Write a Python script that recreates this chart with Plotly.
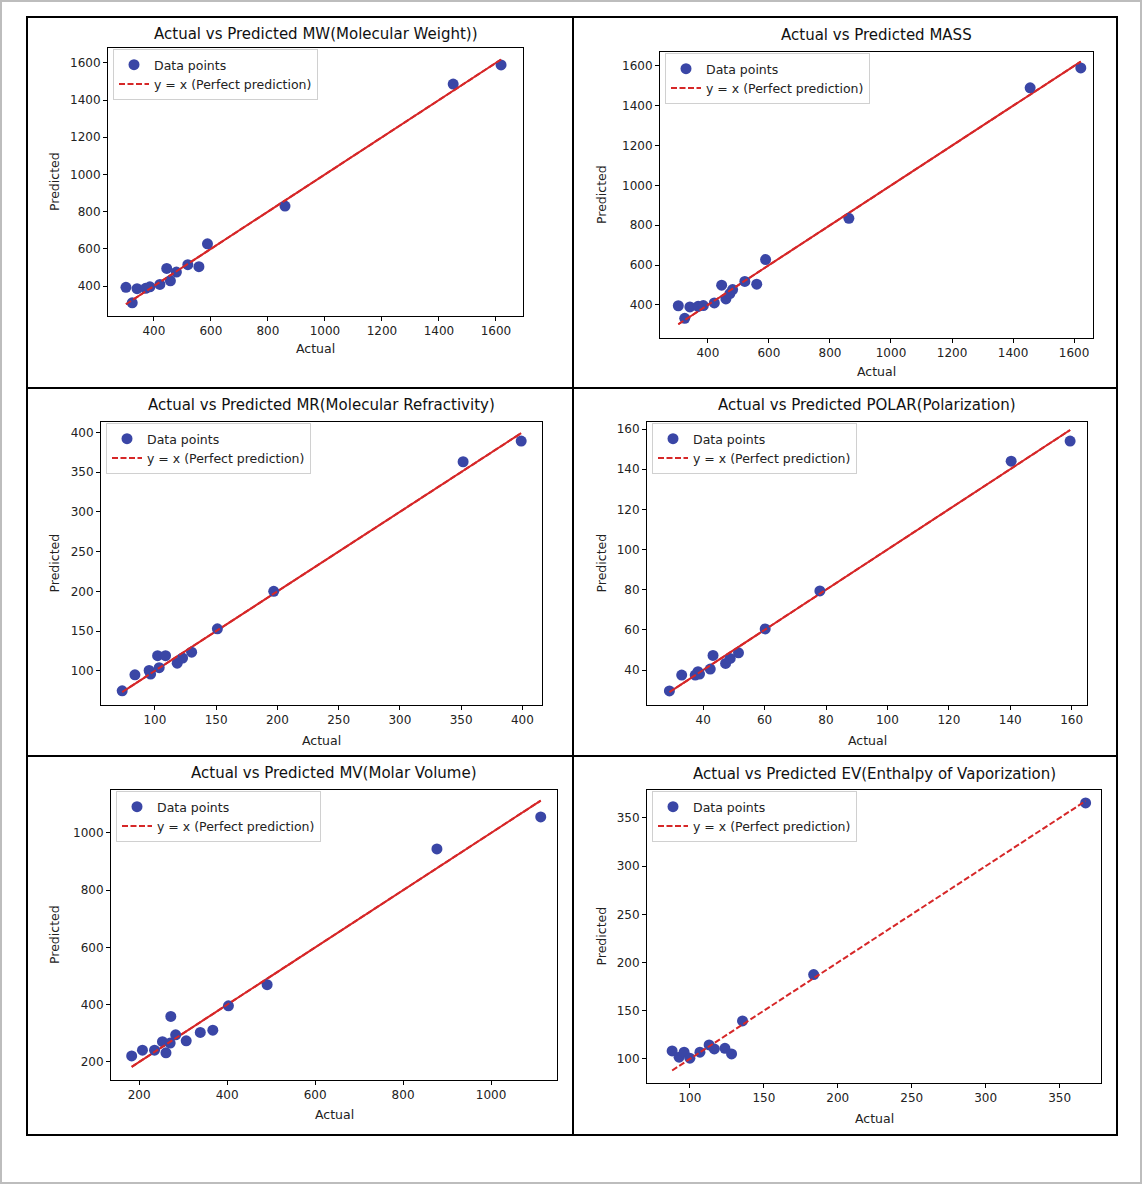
import plotly.graph_objects as go

W, H = 1145, 1185

# ---- data (actual, predicted) ----
mw_actual = [1618, 302, 860, 324, 341, 1450, 371, 386, 421, 445, 458, 479, 519, 558, 588]
mw_pred = [1589, 393, 830, 310, 386, 1486, 388, 396, 409, 495, 428, 475, 515, 504, 627]

mass_actual = [1622, 303, 862, 324, 341, 1456, 368, 385, 421, 445, 459, 472, 481, 521, 560, 589]
mass_pred = [1590, 396, 835, 333, 390, 1490, 393, 397, 410, 499, 430, 457, 477, 518, 504, 628]

mr_actual = [399, 73.3, 197, 83.7, 351.6, 95.3, 96.5, 102.2, 103.5, 108.7, 118.2, 122.6, 130, 151]
mr_pred = [389, 74.9, 200, 95, 363, 100.4, 95.9, 119, 104, 119, 109.6, 116, 123.5, 152.8]

polar_actual = [159.5, 29, 78, 33, 140.3, 37.4, 38.3, 38.8, 42.3, 43.2, 47.3, 48.8, 51.5, 60.2]
polar_pred = [154, 29.6, 79.4, 37.5, 144, 37.5, 39.2, 38, 40.5, 47.3, 43.3, 45.8, 48.6, 60.5]

mv_actual = [1113, 183, 877, 207.5, 491, 235, 253, 261, 272, 270.5, 283, 307, 339, 367.5, 403]
mv_pred = [1056, 221, 944, 241, 470, 241, 271, 232, 359, 266, 295, 274, 303, 311, 396]

ev_actual = [88, 92.7, 96.1, 100, 106.8, 113, 116.5, 123.7, 128.2, 135.6, 183.7, 367.6]
ev_pred = [108.3, 101.8, 107, 100.7, 107, 114.5, 110.4, 111, 105.2, 139.4, 187.5, 365.6]

titles = [
    "Actual vs Predicted MW(Molecular Weight))",
    "Actual vs Predicted MASS",
    "Actual vs Predicted MR(Molecular Refractivity)",
    "Actual vs Predicted POLAR(Polarization)",
    "Actual vs Predicted MV(Molar Volume)",
    "Actual vs Predicted EV(Enthalpy of Vaporization)",
]

FONT = "DejaVu Sans"
PT_COLOR = "#3a46a6"
LINE_COLOR = "#d62728"

# pixel boxes of each axes: left, right, top, bottom ; plus ranges and tick steps
panels = [
    dict(a=mw_actual, p=mw_pred, box=(108, 523, 48, 316), xr=(239, 1695), yr=(239, 1680),
         xt=200, yt=200, title_y=34, xl_y=348, yl_x=55, solid=True),
    dict(a=mass_actual, p=mass_pred, box=(660, 1093, 52, 338), xr=(243, 1662), yr=(234, 1670),
         xt=200, yt=200, title_y=35, xl_y=371, yl_x=601, solid=True),
    dict(a=mr_actual, p=mr_pred, box=(101, 542, 422, 705), xr=(56, 416), yr=(57, 413),
         xt=50, yt=50, title_y=405, xl_y=740, yl_x=54, solid=True),
    dict(a=polar_actual, p=polar_pred, box=(647, 1087, 422, 705), xr=(21.7, 165), yr=(22.6, 163.5),
         xt=20, yt=20, title_y=405, xl_y=740, yl_x=601, solid=True),
    dict(a=mv_actual, p=mv_pred, box=(111, 557, 790, 1080), xr=(136, 1150), yr=(137, 1150),
         xt=200, yt=200, title_y=773, xl_y=1114, yl_x=54, solid=True),
    dict(a=ev_actual, p=ev_pred, box=(647, 1101, 790, 1083), xr=(71, 378), yr=(75, 379),
         xt=50, yt=50, title_y=774, xl_y=1118, yl_x=601, solid=False),
]


def px(x):
    return x / W


def py(y):
    return 1 - y / H


fig = go.Figure()
annotations = []
layout = {}

for i, pn in enumerate(panels):
    n = "" if i == 0 else str(i + 1)
    leg = "legend" + n
    l, r, t, b = pn["box"]
    if pn["solid"]:
        # overlapping dashed segments look solid in the reference
        fig.add_trace(go.Scatter(
            x=pn["a"], y=pn["a"], mode="lines", showlegend=False, hoverinfo="skip",
            line=dict(color=LINE_COLOR, width=2), xaxis="x" + n, yaxis="y" + n,
        ))
    fig.add_trace(go.Scatter(
        x=pn["a"], y=pn["p"], mode="markers", name="Data points",
        marker=dict(color=PT_COLOR, size=11, line=dict(width=0)),
        xaxis="x" + n, yaxis="y" + n, legend=leg,
    ))
    fig.add_trace(go.Scatter(
        x=sorted(pn["a"]), y=sorted(pn["a"]), mode="lines", name="y = x (Perfect prediction)",
        line=dict(color=LINE_COLOR, width=2, dash="6px,2.5px"),
        xaxis="x" + n, yaxis="y" + n, legend=leg,
    ))
    ax = dict(showgrid=False, zeroline=False, showline=True, linecolor="black", linewidth=1,
              mirror=True, ticks="outside", ticklen=4, tickcolor="black",
              tickfont=dict(family=FONT, size=12, color="#222"))
    layout["xaxis" + n] = dict(ax, domain=[px(l), px(r)], range=list(pn["xr"]), dtick=pn["xt"],
                               tick0=0, anchor="y" + n)
    layout["yaxis" + n] = dict(ax, domain=[py(b), py(t)], range=list(pn["yr"]), dtick=pn["yt"],
                               tick0=0, anchor="x" + n)
    layout[leg] = dict(x=px(l + 5), y=py(t + 1), xanchor="left", yanchor="top",
                       bgcolor="white", bordercolor="#d0d0d0", borderwidth=1,
                       font=dict(family=FONT, size=12.5, color="#222"),
                       tracegroupgap=0, itemwidth=30, traceorder="normal")
    cx = (l + r) / 2
    common = dict(xref="paper", yref="paper", showarrow=False, xanchor="center", yanchor="middle")
    annotations.append(dict(common, text=titles[i], x=px(cx), y=py(pn["title_y"]),
                            font=dict(family=FONT, size=15, color="#111")))
    annotations.append(dict(common, text="Actual", x=px(cx), y=py(pn["xl_y"]),
                            font=dict(family=FONT, size=12.5, color="#222")))
    annotations.append(dict(common, text="Predicted", x=px(pn["yl_x"]), y=py((t + b) / 2),
                            textangle=-90, font=dict(family=FONT, size=12.5, color="#222")))

shapes = [
    dict(type="rect", xref="paper", yref="paper", x0=px(1), x1=px(1141), y0=py(1183), y1=py(1),
         line=dict(color="#bdbdbd", width=2)),
    dict(type="rect", xref="paper", yref="paper", x0=px(27), x1=px(1117), y0=py(1135), y1=py(17),
         line=dict(color="black", width=2)),
    dict(type="line", xref="paper", yref="paper", x0=px(573), x1=px(573), y0=py(1135), y1=py(17),
         line=dict(color="black", width=2)),
    dict(type="line", xref="paper", yref="paper", x0=px(27), x1=px(1117), y0=py(388), y1=py(388),
         line=dict(color="black", width=2)),
    dict(type="line", xref="paper", yref="paper", x0=px(27), x1=px(1117), y0=py(756), y1=py(756),
         line=dict(color="black", width=2)),
]

fig.update_layout(
    width=W, height=H, margin=dict(l=0, r=0, t=0, b=0),
    paper_bgcolor="white", plot_bgcolor="white",
    annotations=annotations, shapes=shapes, **layout,
)

fig.write_html("out.html", config={"displayModeBar": False},
               post_script="document.body.style.margin='0';")
